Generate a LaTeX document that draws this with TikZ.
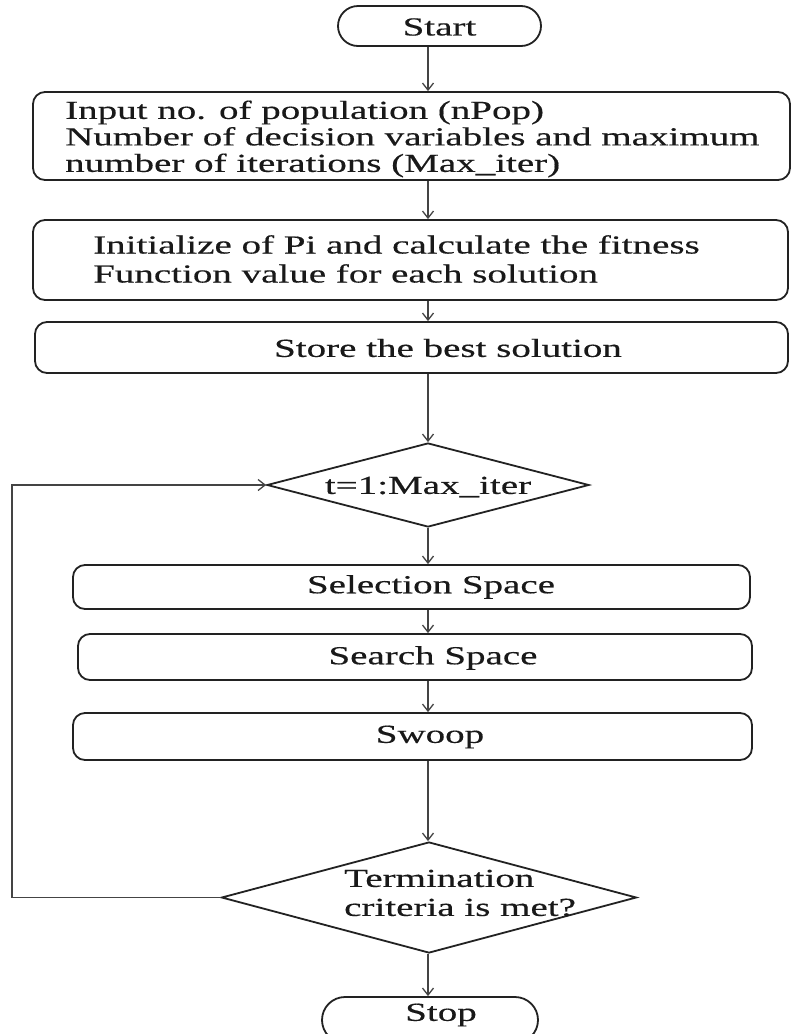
\documentclass[tikz,border=0pt]{standalone}
\usepackage{fontspec}
\setmainfont{Liberation Serif}[FakeStretch=1.5,FakeBold=0.4]
\usetikzlibrary{shapes.geometric,shapes.misc,arrows.meta}
\definecolor{edge}{HTML}{222222}
\definecolor{conn}{HTML}{444444}
\begin{document}
\begin{tikzpicture}[x=1pt,y=-1pt,
  box/.style={draw=edge, line width=1.8pt, rounded corners=12pt, inner sep=0pt, fill=white},
  term/.style={draw=edge, line width=1.8pt, rounded rectangle, inner sep=0pt, fill=white},
  dec/.style={draw=edge, line width=1.8pt, diamond, inner sep=0pt, fill=white},
  txt/.style={inner sep=0pt, font=\fontsize{26}{29}\selectfont, text=black!90},
  arr/.style={draw=conn, line width=1.3pt, -{Straight Barb[length=7pt,width=11pt]}},
]
\useasboundingbox (0,0) rectangle (792,1034);
\fill[white] (0,0) rectangle (792,1034);
\coordinate (ax) at (428,0);
\coordinate (lp) at (12,0);

% boxes
\node[term, minimum width=203pt, minimum height=40pt] (start) at (439.5,26) {};
\node[box, minimum width=757pt, minimum height=88pt] (input) at (411.5,136) {};
\node[box, minimum width=755pt, minimum height=80pt] (init) at (410.5,260) {};
\node[box, minimum width=753pt, minimum height=51pt] (store) at (411.5,347.5) {};
\node[dec, minimum width=322pt, minimum height=84pt] (d1) at (428,485) {};
\node[box, minimum width=677pt, minimum height=44pt] (sel) at (411.5,587) {};
\node[box, minimum width=674pt, minimum height=46pt] (search) at (415,657) {};
\node[box, minimum width=679pt, minimum height=47pt] (swoop) at (412.5,736.5) {};
\node[dec, minimum width=415pt, minimum height=111pt] (d2) at (429,897.5) {};
\node[term, minimum width=216pt, minimum height=46pt] (stop) at (430,1020) {};

% texts
\node[txt] (startT) at (439.5,27) {Start};
\node[txt, anchor=west, align=left, font=\fontsize{26}{26.5}\selectfont] (inputT) at (65,139)
  {Input no. of population (nPop)\\Number of decision variables and maximum\\number of iterations (Max\_iter)};
\node[txt, anchor=west, align=left] (initT) at (93,259)
  {Initialize of Pi and calculate the fitness\\Function value for each solution};
\node[txt] (storeT) at (448,348) {Store the best solution};
\node[txt] (d1T) at (428,487) {t=1:Max\_iter};
\node[txt] (selT) at (431,587) {Selection Space};
\node[txt] (searchT) at (433,658) {Search Space};
\node[txt] (swoopT) at (430,737) {Swoop};
\node[txt, anchor=west, align=left] (d2T) at (344,893) {Termination\\criteria is met?};
\node[txt] (stopT) at (441,1015) {Stop};

% connectors
\draw[arr] (start.south -| ax) -- (input.north -| ax);
\draw[arr] (input.south -| ax) -- (init.north -| ax);
\draw[arr] (init.south -| ax) -- (store.north -| ax);
\draw[arr] (store.south -| ax) -- (d1.north);
\draw[arr] (d1.south) -- (sel.north -| ax);
\draw[arr] (sel.south -| ax) -- (search.north -| ax);
\draw[arr] (search.south -| ax) -- (swoop.north -| ax);
\draw[arr] (swoop.south -| ax) -- (d2.north -| ax);
\draw[arr] (d2.south -| ax) -- (stop.north -| ax);
\draw[arr] (d2.west) -- (d2.west -| lp) |- (d1.west);
\end{tikzpicture}
\end{document}
